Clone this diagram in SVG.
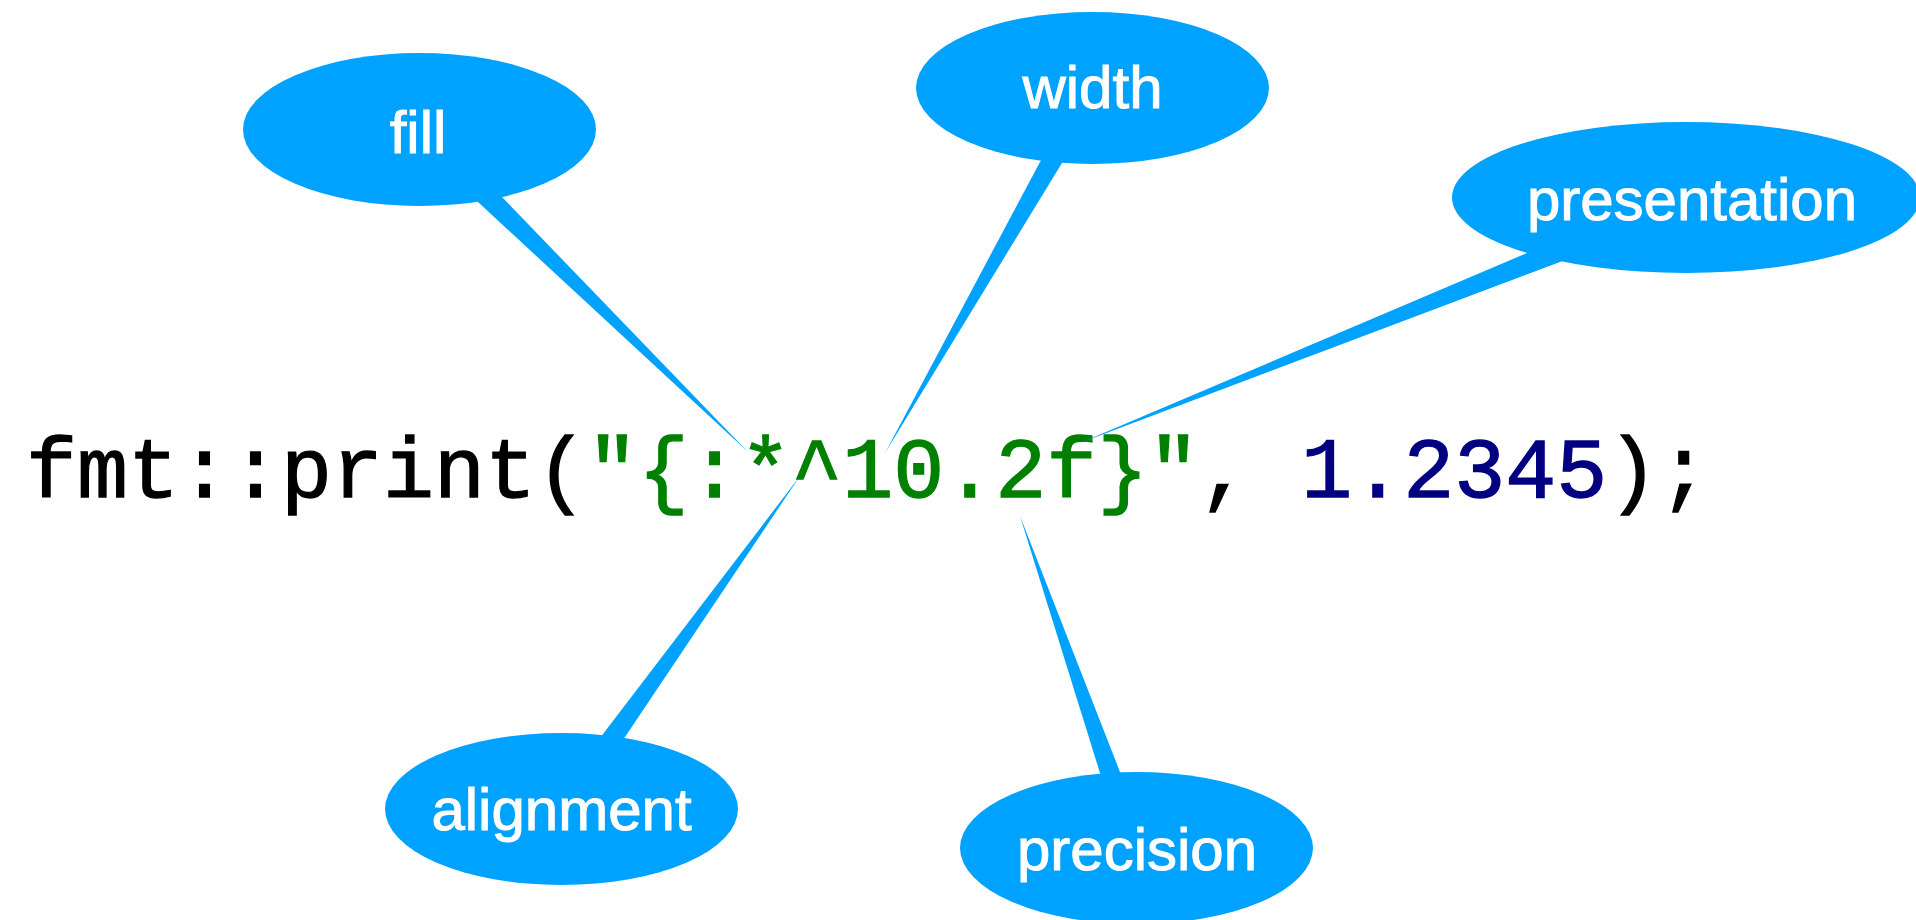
<svg xmlns="http://www.w3.org/2000/svg" width="1916" height="920" viewBox="0 0 1916 920">
  <style>
    .bubble { fill: #00A2FF; }
    .label { font-family: "Liberation Sans", Arial, sans-serif; font-size: 60px; fill: #ffffff; stroke: #ffffff; stroke-width: 1px; text-anchor: middle; }
    .code { font-family: "Liberation Mono", "Courier New", monospace; font-size: 85px; fill: #000000; stroke: #000000; stroke-width: 1.3px; white-space: pre; }
    .str { fill: #008000; stroke: #008000; }
    .num { fill: #000080; stroke: #000080; }
  </style>
  <rect width="1916" height="920" fill="#ffffff"/>
  <g id="code">
    <text class="code" x="26" y="497" xml:space="preserve">fmt::print(<tspan class="str">"{:*^10.2f}"</tspan>, <tspan class="num">1.2345</tspan>);</text>
  </g>
  <g id="connectors">
    <polygon class="bubble" points="748,452 478,202 419.5,129.5 502,197"/>
    <polygon class="bubble" points="885,453 1040,162 1092.5,88 1062,163"/>
    <polygon class="bubble" points="1080,443 1527,253 1686,197.5 1560,262"/>
    <polygon class="bubble" points="800,476 603,734 561.5,809 625,737"/>
    <polygon class="bubble" points="1020,516 1100,773 1136.5,848 1120,772"/>
  </g>
  <g id="fill">
    <ellipse class="bubble" cx="419.5" cy="129.5" rx="176.5" ry="76.5"/>
    <text class="label" x="418" y="153">fill</text>
  </g>
  <g id="width">
    <ellipse class="bubble" cx="1092.5" cy="88" rx="176.5" ry="76"/>
    <text class="label" x="1092.5" y="108">width</text>
  </g>
  <g id="presentation">
    <ellipse class="bubble" cx="1686" cy="197.5" rx="234" ry="75.5"/>
    <text class="label" x="1692" y="220">presentation</text>
  </g>
  <g id="alignment">
    <ellipse class="bubble" cx="561.5" cy="809" rx="176.5" ry="76"/>
    <text class="label" x="561.5" y="830">alignment</text>
  </g>
  <g id="precision">
    <ellipse class="bubble" cx="1136.5" cy="848" rx="176.5" ry="76"/>
    <text class="label" x="1137" y="870">precision</text>
  </g>
</svg>
